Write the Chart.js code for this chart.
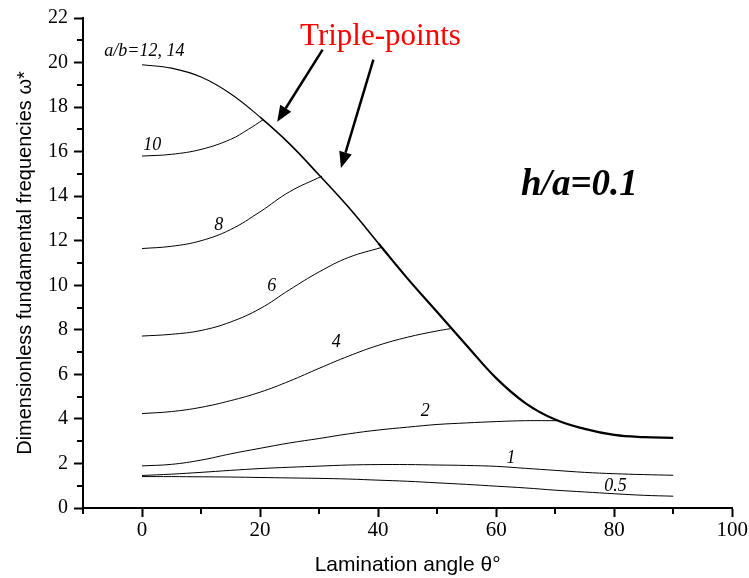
<!DOCTYPE html>
<html>
<head>
<meta charset="utf-8">
<script src="https://cdn.jsdelivr.net/npm/chart.js@4.4.1/dist/chart.umd.min.js"></script>
<style>
	html, body { margin: 0; padding: 0; background: #fff; }
	#wrap { width: 749px; height: 578px; }
</style>
</head>
<body>
<div id="wrap"><canvas id="freq_chart"></canvas></div>
<script>
// lamination angle (deg) and dimensionless frequency, one pair of arrays per a/b
const x_main = [0, 5, 10, 15, 20, 25, 30, 35, 40, 45, 50, 55, 60, 65, 70, 75, 80, 85, 90];
const y_main = [19.9, 19.75, 19.35, 18.6, 17.55, 16.35, 14.95, 13.5, 11.9, 10.3, 8.8, 7.3, 5.83, 4.7, 3.97, 3.55, 3.28, 3.18, 3.15];

const x_10 = [0, 5, 10, 15, 18, 20.5];
const y_10 = [15.8, 15.88, 16.1, 16.55, 17.0, 17.43];

const x_8 = [0, 5, 10, 15, 20, 25, 30.5];
const y_8 = [11.65, 11.75, 12.0, 12.5, 13.3, 14.2, 14.9];

const x_6 = [0, 5, 10, 15, 20, 25, 30, 35, 40.6];
const y_6 = [7.72, 7.8, 7.97, 8.35, 8.95, 9.8, 10.6, 11.25, 11.7];

const x_4 = [0, 5, 10, 15, 20, 25, 30, 35, 40, 45, 50, 52.2];
const y_4 = [4.24, 4.33, 4.52, 4.82, 5.2, 5.7, 6.27, 6.82, 7.3, 7.67, 7.95, 8.05];

const x_2 = [0, 5, 10, 15, 20, 25, 30, 35, 40, 45, 50, 55, 60, 65, 70.4];
const y_2 = [1.89, 1.96, 2.15, 2.43, 2.68, 2.92, 3.12, 3.33, 3.5, 3.63, 3.75, 3.82, 3.88, 3.92, 3.92];

const x_1 = [0, 5, 10, 15, 20, 25, 30, 35, 40, 45, 50, 55, 60, 65, 70, 75, 80, 85, 90];
const y_1 = [1.46, 1.52, 1.6, 1.69, 1.77, 1.83, 1.88, 1.93, 1.95, 1.95, 1.93, 1.91, 1.87, 1.78, 1.69, 1.6, 1.54, 1.5, 1.47];

const x_05 = [0, 5, 10, 15, 20, 25, 30, 35, 40, 45, 50, 55, 60, 65, 70, 75, 80, 85, 90];
const y_05 = [1.41, 1.41, 1.4, 1.39, 1.37, 1.35, 1.33, 1.3, 1.25, 1.2, 1.13, 1.06, 0.98, 0.9, 0.8, 0.72, 0.64, 0.57, 0.53];

// curve names written next to the lines (placed in data units)
const curve_labels = [
	{text: 'a/b=12, 14', x: -6.4, y: 20.5, align: 'left'},
	{text: '10', x: 0.2, y: 16.3, align: 'left'},
	{text: '8', x: 13.0, y: 12.7, align: 'center'},
	{text: '6', x: 22.0, y: 9.97, align: 'center'},
	{text: '4', x: 32.9, y: 7.45, align: 'center'},
	{text: '2', x: 48.0, y: 4.35, align: 'center'},
	{text: '1', x: 62.5, y: 2.24, align: 'center'},
	{text: '0.5', x: 80.2, y: 0.98, align: 'center'},
];

const arrows = [
	{x0: 30.6, y0: 20.58, x1: 22.9, y1: 17.34},
	{x0: 39.2, y0: 20.13, x1: 33.7, y1: 15.27},
];

function pts(xs, ys) {
	return xs.map((v, i) => ({x: v, y: ys[i]}));
}

function line(label, xs, ys, width) {
	return {
		label: label,
		data: pts(xs, ys),
		borderColor: '#000',
		borderWidth: width,
		pointRadius: 0,
		fill: false,
		tension: 0.4,
	};
}

const main_line = line('12, 14', x_main, y_main, 1);
// the other curves run into the main one past each triple point, so it gets heavier
main_line.segment = {
	borderWidth: c => c.p0.parsed.x >= 40 ? 2.2 : (c.p0.parsed.x >= 20 ? 1.6 : 1.1)
};

const serif = '"Liberation Serif", "Times New Roman", serif';
const sans = '"Liberation Sans Narrow", "Arial Narrow", "Liberation Sans", Arial, sans-serif';

const minor_ticks = {
	id: 'minor_ticks',
	afterDraw(chart) {
		const {ctx, chartArea, scales: {x, y}} = chart;
		ctx.save();
		ctx.strokeStyle = '#000';
		ctx.lineWidth = 2;
		ctx.beginPath();
		for (let v = 1; v < 22; v += 2) {
			const py = Math.round(y.getPixelForValue(v));
			ctx.moveTo(chartArea.left, py);
			ctx.lineTo(chartArea.left - 6, py);
		}
		for (let v = -10; v < 100; v += 20) {
			const px = Math.round(x.getPixelForValue(v));
			ctx.moveTo(px, chartArea.bottom);
			ctx.lineTo(px, chartArea.bottom + 6);
		}
		ctx.stroke();
		ctx.restore();
	}
};

const annotate = {
	id: 'annotate',
	afterDatasetsDraw(chart) {
		const {ctx, scales: {x, y}} = chart;
		ctx.save();
		ctx.fillStyle = '#000';
		ctx.textBaseline = 'middle';
		ctx.font = 'italic 18px ' + serif;
		curve_labels.forEach(l => {
			ctx.textAlign = l.align;
			ctx.fillText(l.text, x.getPixelForValue(l.x), y.getPixelForValue(l.y));
		});

		ctx.textAlign = 'center';
		ctx.fillStyle = '#ff0000';
		ctx.font = '31px ' + serif;
		ctx.fillText('Triple-points', x.getPixelForValue(40.4), y.getPixelForValue(21.16));

		ctx.fillStyle = '#000';
		ctx.font = 'italic bold 37px ' + serif;
		ctx.fillText('h/a=0.1', x.getPixelForValue(74.1), y.getPixelForValue(14.5));

		ctx.strokeStyle = '#000';
		ctx.lineWidth = 2.5;
		arrows.forEach(a => {
			const sx = x.getPixelForValue(a.x0), sy = y.getPixelForValue(a.y0);
			const tx = x.getPixelForValue(a.x1), ty = y.getPixelForValue(a.y1);
			const ang = Math.atan2(ty - sy, tx - sx);
			const head = 16, half = 6.5;
			const bx = tx - head * Math.cos(ang), by = ty - head * Math.sin(ang);
			ctx.beginPath();
			ctx.moveTo(sx, sy);
			ctx.lineTo(bx, by);
			ctx.stroke();
			ctx.beginPath();
			ctx.moveTo(tx, ty);
			ctx.lineTo(bx + half * Math.sin(ang), by - half * Math.cos(ang));
			ctx.lineTo(bx - half * Math.sin(ang), by + half * Math.cos(ang));
			ctx.closePath();
			ctx.fill();
		});
		ctx.restore();
	}
};

const ctx = document.getElementById('freq_chart').getContext('2d');

const chart = new Chart(ctx, {
	type: 'line',
	data: {
		datasets: [
			main_line,
			line('10', x_10, y_10, 1),
			line('8', x_8, y_8, 1),
			line('6', x_6, y_6, 1),
			line('4', x_4, y_4, 1),
			line('2', x_2, y_2, 1),
			line('1', x_1, y_1, 1),
			line('0.5', x_05, y_05, 1),
		]
	},
	options: {
		responsive: true,
		maintainAspectRatio: false,
		animation: false,
		layout: {
			padding: {top: 18, right: 16, bottom: 0, left: 0}
		},
		plugins: {
			legend: {display: false},
			tooltip: {enabled: false},
			title: {display: false}
		},
		scales: {
			x: {
				type: 'linear',
				min: -10,
				max: 100,
				afterFit: function(s) { s.height = 70; },
				border: {display: true, color: '#000', width: 2},
				grid: {
					drawOnChartArea: false,
					drawTicks: true,
					tickLength: 9,
					tickWidth: 2,
					tickColor: '#000'
				},
				ticks: {
					stepSize: 20,
					includeBounds: false,
					color: '#000',
					padding: 1,
					maxRotation: 0,
					font: {family: serif, size: 21}
				},
				title: {
					display: true,
					text: 'Lamination angle θ°',
					color: '#000',
					padding: {top: 0, bottom: 0},
					font: {family: sans, size: 21}
				}
			},
			y: {
				type: 'linear',
				min: 0,
				max: 22,
				afterFit: function(s) { s.width = 83; },
				border: {display: true, color: '#000', width: 2},
				grid: {
					drawOnChartArea: false,
					drawTicks: true,
					tickLength: 9,
					tickWidth: 2,
					tickColor: '#000'
				},
				ticks: {
					stepSize: 2,
					color: '#000',
					padding: 6,
					font: {family: serif, size: 20}
				},
				title: {
					display: true,
					text: 'Dimensionless fundamental frequencies ω*',
					color: '#000',
					padding: {top: 13, bottom: 0},
					font: {family: sans, size: 20}
				}
			}
		}
	},
	plugins: [minor_ticks, annotate]
});
</script>
</body>
</html>
